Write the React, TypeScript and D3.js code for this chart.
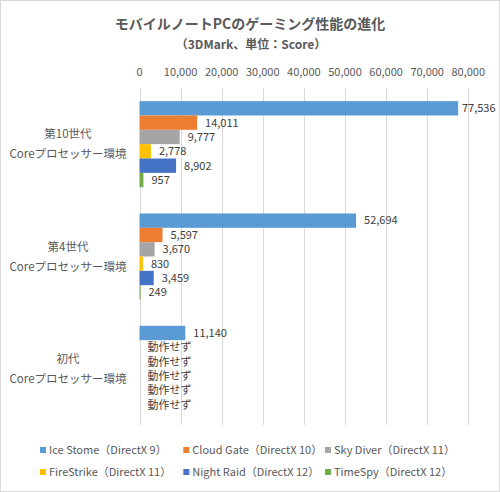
import * as d3 from "d3";
import React from "react";

// categories (two-line labels)
const genLabels = ["第10世代", "第4世代", "初代"];
const coreLabel = "Coreプロセッサー環境";
const groups = ["gen10", "gen4", "gen1"];

// series
const seriesNames = [
  "Ice Stome（DirectX 9）",
  "Cloud Gate（DirectX 10）",
  "Sky Diver（DirectX 11）",
  "FireStrike（DirectX 11）",
  "Night Raid（DirectX 12）",
  "TimeSpy（DirectX 12）",
];
const seriesColors = ["#5B9BD5", "#ED7D31", "#A5A5A5", "#FFC000", "#4472C4", "#70AD47"];

// values per series, in group order (null = 動作せず)
const iceStorm = [77536, 52694, 11140];
const cloudGate = [14011, 5597, null];
const skyDiver = [9777, 3670, null];
const fireStrike = [2778, 830, null];
const nightRaid = [8902, 3459, null];
const timeSpy = [957, 249, null];
const seriesValues: (number | null)[][] = [iceStorm, cloudGate, skyDiver, fireStrike, nightRaid, timeSpy];

const xTicks = [0, 10000, 20000, 30000, 40000, 50000, 60000, 70000, 80000];

const W = 500;
const H = 492;
const FONT = "'Noto Sans CJK JP', 'Noto Sans', sans-serif";

const App: React.FC = () => {
  const x = d3.scaleLinear().domain([0, 80000]).range([139.5, 468.3]);
  const y = d3
    .scaleBand<string>()
    .domain(groups)
    .range([88, 425])
    .paddingInner(0.234)
    .paddingOuter(0.117);
  const inner = d3
    .scaleBand<number>()
    .domain(d3.range(seriesNames.length))
    .range([0, y.bandwidth()]);
  const fmt = d3.format(",");

  return (
    <svg
      width={W}
      height={H}
      style={{ position: "absolute", left: 0, top: 0, background: "#fff" }}
      fontFamily={FONT}
    >
      <rect x={0.5} y={0.5} width={W - 1} height={H - 1} fill="#fff" stroke="#d9d9d9" />

      <text x={250} y={29} textAnchor="middle" fontSize={14} fontWeight="bold" fill="#595959">
        モバイルノートPCのゲーミング性能の進化
      </text>
      <text x={251} y={49} textAnchor="middle" fontSize={12} fontWeight="bold" fill="#595959">
        （3DMark、単位：Score）
      </text>

      {/* gridlines and top tick labels */}
      {xTicks.map((t) => (
        <g key={t}>
          <line
            x1={Math.round(x(t)) + 0.5}
            x2={Math.round(x(t)) + 0.5}
            y1={y.range()[0]}
            y2={y.range()[1]}
            stroke="#d9d9d9"
          />
          <text x={x(t)} y={76} textAnchor="middle" fontSize={11} fill="#595959">
            {fmt(t)}
          </text>
        </g>
      ))}

      {/* category labels */}
      {groups.map((g, i) => {
        const c = (y(g) as number) + y.bandwidth() / 2;
        return (
          <g key={g} fontSize={11.5} fill="#595959" textAnchor="middle">
            <text x={68} y={c - 10} dy="0.35em">
              {genLabels[i]}
            </text>
            <text x={68} y={c + 10} dy="0.35em">
              {coreLabel}
            </text>
          </g>
        );
      })}

      {/* bars */}
      {seriesValues.map((vals, s) =>
        vals.map((v, gi) => {
          const y0 = (y(groups[gi]) as number) + (inner(s) as number);
          const cy = y0 + inner.bandwidth() / 2;
          if (v === null) {
            return (
              <text key={`${s}-${gi}`} x={x(0) + 8} y={cy} dy="0.35em" fontSize={11} fill="#404040">
                動作せず
              </text>
            );
          }
          const lx = Math.min(x(v) + 8, 462);
          return (
            <g key={`${s}-${gi}`}>
              <rect x={x(0)} y={y0} width={x(v) - x(0)} height={inner.bandwidth()} fill={seriesColors[s]} />
              <text x={lx} y={cy} dy="0.35em" fontSize={11} fill="#404040">
                {fmt(v)}
              </text>
            </g>
          );
        })
      )}

      {/* legend */}
      {seriesNames.map((n, i) => {
        const colX = [40, 183.3, 325][i % 3];
        const rowY = [450, 472][Math.floor(i / 3)];
        return (
          <g key={n}>
            <rect x={colX} y={rowY - 3} width={6} height={6} fill={seriesColors[i]} />
            <text x={colX + 9} y={rowY} dy="0.35em" fontSize={11} fill="#595959">
              {n}
            </text>
          </g>
        );
      })}
    </svg>
  );
};

export default App;
